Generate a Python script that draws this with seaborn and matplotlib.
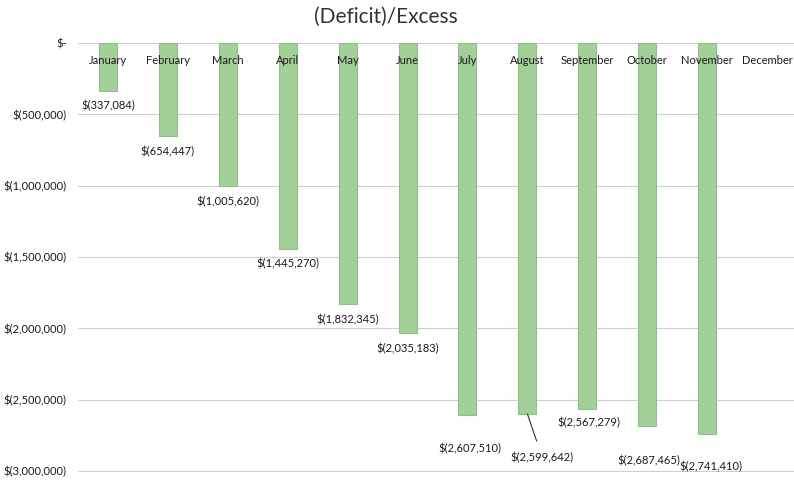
import numpy as np
import pandas as pd
import matplotlib
matplotlib.use('Agg')
import matplotlib.pyplot as plt
import seaborn as sns

months = ['January', 'February', 'March', 'April', 'May', 'June', 'July',
          'August', 'September', 'October', 'November', 'December']
values = [-337084, -654447, -1005620, -1445270, -1832345, -2035183, -2607510,
          -2599642, -2567279, -2687465, -2741410, np.nan]
yticks = [0, -500000, -1000000, -1500000, -2000000, -2500000, -3000000]

# label offsets in pixels (dx, dy) from the bar end, a few are pushed down
label_offsets = {'July': (2, -34), 'August': (15, -44), 'September': (2, -13),
                 'October': (2, -34), 'November': (4, -33)}

df = pd.DataFrame({'month': months, 'value': values})

sns.set_style('white')
plt.rcParams['font.family'] = ['Lato', 'DejaVu Sans']

fig = plt.figure(figsize=(7.94, 4.83), dpi=100)
ax = fig.add_axes([78 / 794, 1 - 471 / 483, (797 - 78) / 794, (471 - 43) / 483])

sns.barplot(data=df, x='month', y='value', order=months, color='#a3cf98',
            edgecolor='#8fc089', linewidth=0.8, width=0.3, errorbar=None,
            saturation=1, ax=ax, zorder=2)

ax.set_ylim(-3000000, 0)
ax.set_xlim(-0.5, 11.5)
ax.set_yticks(yticks)


def money(v):
    if v == 0:
        return '$-'
    return '$({:,.0f})'.format(abs(v))


ax.set_yticklabels([money(v) for v in yticks])
ax.tick_params(axis='y', length=0, pad=8, labelsize=8, colors='#1a1a1a')
ax.tick_params(axis='x', length=0, labelbottom=False)
ax.set_xlabel('')
ax.set_ylabel('')
for s in ax.spines.values():
    s.set_visible(False)
ax.grid(axis='y', color='#cfcfcf', linewidth=0.8, zorder=0)
ax.set_axisbelow(True)
for gl in ax.get_ygridlines():
    gl.set_clip_on(False)

for i, m in enumerate(months):
    ax.annotate(m, (i, 0), xytext=(0, -17), textcoords='offset pixels',
                ha='center', va='center', fontsize=8, color='#1a1a1a', zorder=5)

for i, (m, v) in enumerate(zip(months, values)):
    if np.isnan(v):
        continue
    dx, dy = label_offsets.get(m, (0, -15))
    props = None
    if m == 'August':
        props = dict(arrowstyle='-', color='#333333', lw=0.8, shrinkA=6, shrinkB=0)
    ax.annotate(money(v), (i, v), xytext=(dx, dy), textcoords='offset pixels',
                ha='center', va='center', fontsize=8, color='#1a1a1a',
                arrowprops=props, annotation_clip=False, zorder=5)

fig.suptitle('(Deficit)/Excess', x=386 / 794, y=1 - 17 / 483, fontsize=15,
             color='#333333', va='center')

fig.savefig('out.png', dpi=100)
